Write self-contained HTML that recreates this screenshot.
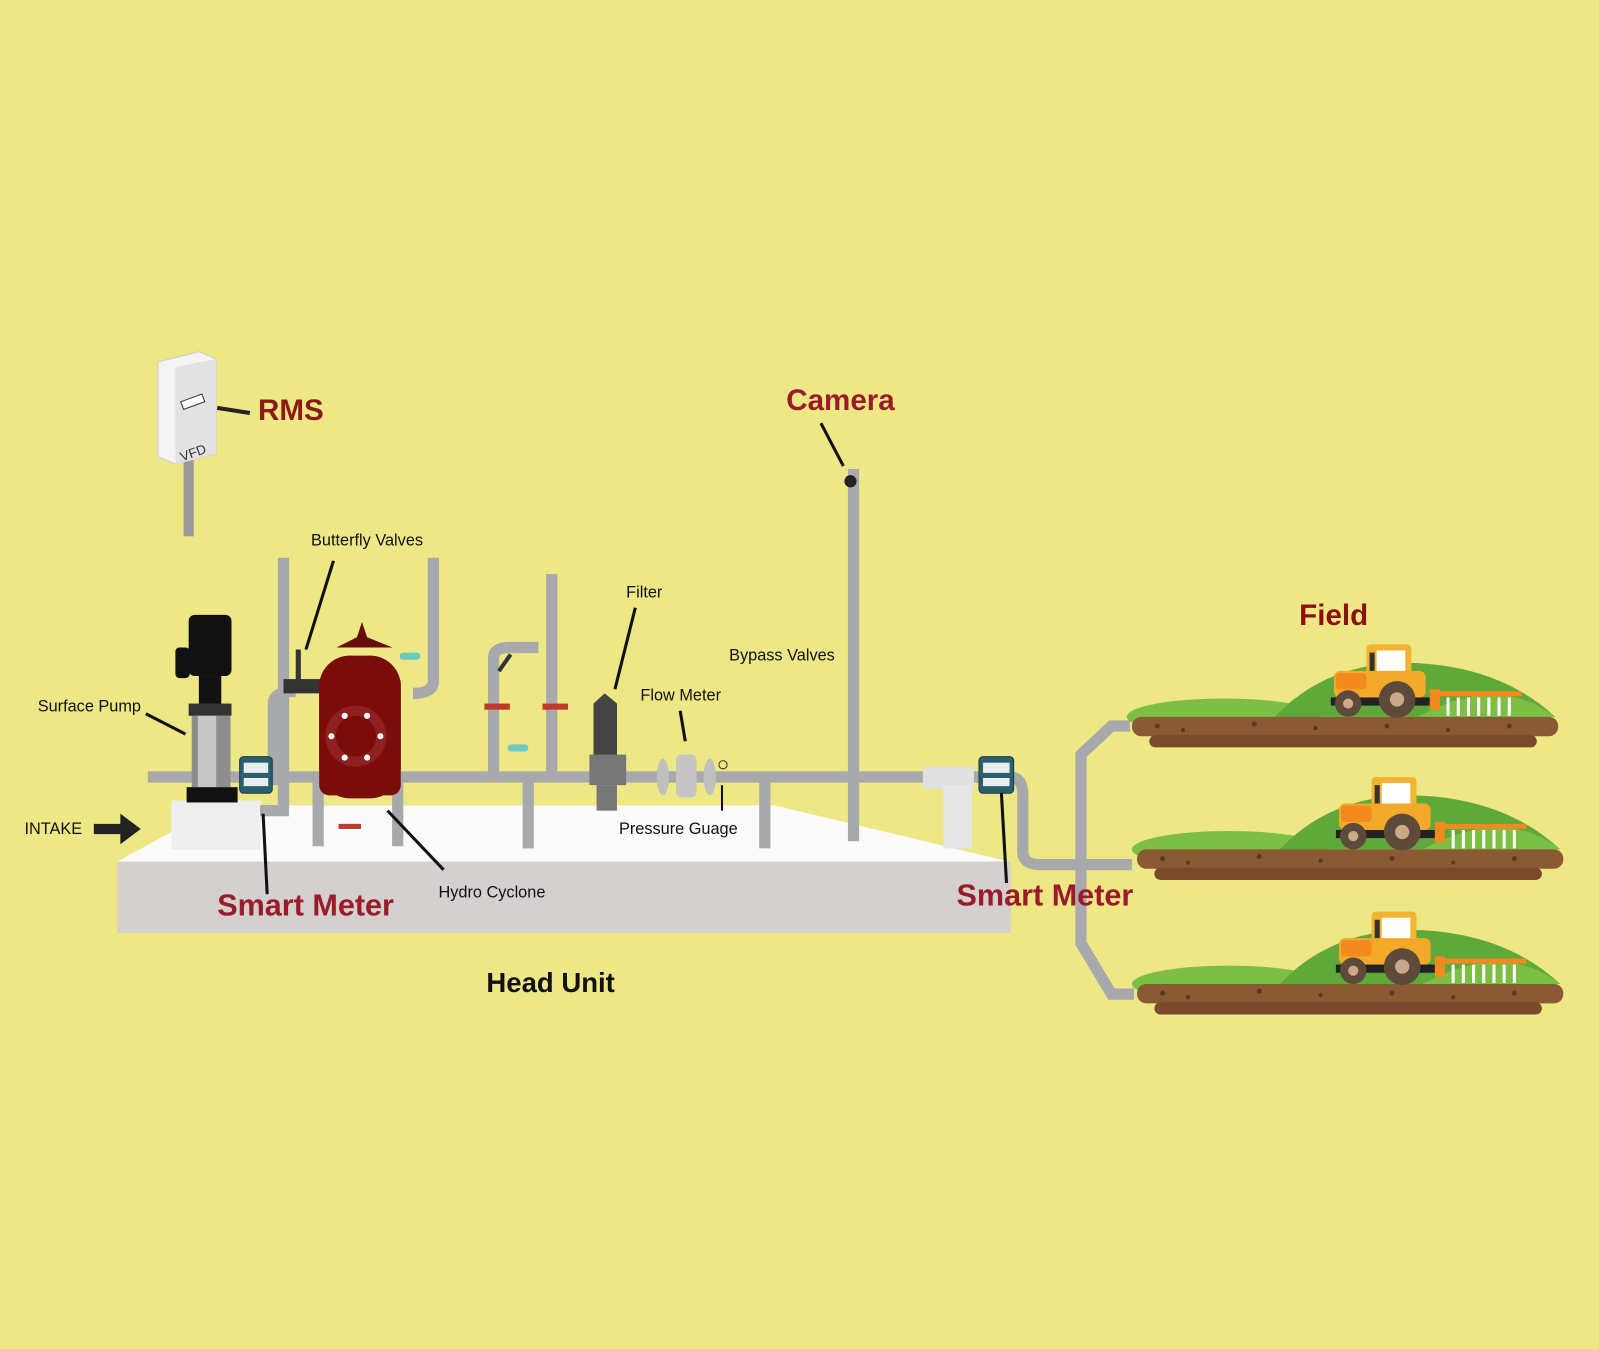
<!DOCTYPE html>
<html><head><meta charset="utf-8"><style>
html,body{margin:0;padding:0;background:#ede785;}
svg{display:block}
text{font-family:"Liberation Sans",sans-serif}
</style></head><body>
<svg width="1599" height="1349" viewBox="0 0 1568 1323" preserveAspectRatio="none" xmlns="http://www.w3.org/2000/svg">
<defs>
<g id="field">
  <ellipse cx="1200" cy="703" rx="95" ry="18" fill="#7dbf45"/>
  <path d="M1250 703 Q1300 650 1380 650 Q1470 652 1525 703 Z" fill="#5fa83a"/>
  <path d="M1390 703 Q1470 660 1525 703Z" fill="#7dbf45"/>
  <rect x="1110" y="703" width="418" height="19" rx="9" fill="#8a5a35"/>
  <rect x="1127" y="721" width="380" height="12" rx="6" fill="#7a4b2a"/>
  <g fill="#5c3a20"><circle cx="1135" cy="712" r="2.5"/><circle cx="1160" cy="716" r="2"/><circle cx="1230" cy="710" r="2.5"/><circle cx="1290" cy="714" r="2"/><circle cx="1360" cy="712" r="2.5"/><circle cx="1420" cy="716" r="2"/><circle cx="1480" cy="712" r="2.5"/></g>
  <!-- tractor -->
  <rect x="1340" y="632" width="44" height="42" rx="4" fill="#f3b330"/>
  <rect x="1350" y="638" width="28" height="28" fill="#fff"/>
  <rect x="1343" y="640" width="5" height="32" fill="#333"/>
  <rect x="1308" y="658" width="90" height="26" rx="6" fill="#f3a929"/>
  <rect x="1310" y="660" width="30" height="16" rx="4" fill="#f28a20"/>
  <rect x="1305" y="684" width="100" height="8" fill="#222"/>
  <circle cx="1322" cy="690" r="13" fill="#5d4a3a"/><circle cx="1322" cy="690" r="5" fill="#c9a98a"/>
  <circle cx="1370" cy="686" r="18" fill="#5d4a3a"/><circle cx="1370" cy="686" r="7" fill="#c9a98a"/>
  <rect x="1402" y="676" width="10" height="20" fill="#f28a20"/>
  <rect x="1412" y="678" width="80" height="5" fill="#f28a20"/>
  <g stroke="#fff" stroke-width="3"><line x1="1420" y1="684" x2="1420" y2="702"/><line x1="1430" y1="684" x2="1430" y2="702"/><line x1="1440" y1="684" x2="1440" y2="702"/><line x1="1450" y1="684" x2="1450" y2="702"/><line x1="1460" y1="684" x2="1460" y2="702"/><line x1="1470" y1="684" x2="1470" y2="702"/><line x1="1480" y1="684" x2="1480" y2="702"/></g>
</g>
</defs>
<rect width="1568" height="1323" fill="#ede785"/>

<!-- platform -->
<path d="M115 845 L170 815 L260 790 L760 790 L990 845 Z" fill="#fbfbfb"/>
<rect x="115" y="845" width="876" height="70" fill="#d3d0cf"/>
<rect x="168" y="785" width="88" height="48" fill="#eeeeee"/>

<!-- RMS box -->
<rect x="180" y="450" width="10" height="76" fill="#9a9a9a"/>
<path d="M155 355 L195 345 L212 352 L212 445 L172 455 L155 448 Z" fill="#f4f4f4" stroke="#ccc"/>
<path d="M172 360 L212 352 L212 445 L172 455Z" fill="#e2e2e2"/>
<rect x="178" y="390" width="22" height="8" fill="#fff" stroke="#333" transform="rotate(-20 189 394)"/>
<text x="175" y="448" font-size="13" fill="#333" transform="rotate(-20 190 440)">VFD</text>
<line x1="213" y1="400" x2="245" y2="405" stroke="#222" stroke-width="4"/>
<text x="253" y="412" font-size="29" font-weight="bold" fill="#8b1a1a">RMS</text>

<!-- pipes -->
<g stroke="#a7a9ac" stroke-width="11" fill="none" stroke-linecap="butt">
  <line x1="145" y1="762" x2="910" y2="762"/>
  <path d="M278 547 V790"/>
  <path d="M268 770 V690 Q268 678 290 678"/>
  <path d="M425 547 V668 Q425 680 405 680"/>
  <path d="M541 563 V762"/>
  <path d="M484 762 V645 Q484 635 500 635 H528"/>
  <line x1="837" y1="460" x2="837" y2="825"/>
  <line x1="312" y1="762" x2="312" y2="830"/>
  <line x1="390" y1="762" x2="390" y2="830"/>
  <line x1="518" y1="762" x2="518" y2="832"/>
  <line x1="750" y1="762" x2="750" y2="832"/>
  <path d="M255 795 H278 V770"/>
  <path d="M940 765 V830"/>
  <path d="M910 762 H990 Q1003 762 1003 780 V835 Q1003 848 1020 848 H1110"/>
  <path d="M1108 712 H1090 L1060 740 V925 L1090 975 H1112"/>
</g>
<rect x="905" y="752" width="50" height="22" fill="#e0e0e0"/>
<rect x="925" y="770" width="28" height="62" fill="#e6e6e6"/>
<rect x="278" y="666" width="36" height="14" fill="#333"/>

<!-- pump -->
<rect x="185" y="603" width="42" height="60" rx="6" fill="#111"/>
<rect x="172" y="635" width="14" height="30" rx="4" fill="#111"/>
<rect x="195" y="663" width="22" height="28" fill="#111"/>
<rect x="185" y="690" width="42" height="12" fill="#333"/>
<rect x="188" y="702" width="38" height="70" fill="#8d8d8d"/>
<rect x="194" y="702" width="18" height="70" fill="#c8c8c8"/>
<rect x="183" y="772" width="50" height="15" fill="#111"/>
<line x1="143" y1="700" x2="182" y2="720" stroke="#111" stroke-width="3"/>
<text x="37" y="698" font-size="16" fill="#111">Surface Pump</text>

<!-- smart meter 1 -->
<rect x="235" y="742" width="32" height="36" rx="4" fill="#2c5f6e" stroke="#1a3a44"/>
<rect x="239" y="748" width="24" height="10" fill="#e8eef0"/>
<rect x="239" y="763" width="24" height="8" fill="#e8eef0"/>
<line x1="258" y1="798" x2="262" y2="877" stroke="#111" stroke-width="3"/>
<text x="213" y="898" font-size="30" font-weight="bold" fill="#9b1b2a">Smart Meter</text>

<!-- hydro cyclone -->
<path d="M355 610 L360 625 L385 635 L330 635 L350 625 Z" fill="#6a0b0b"/>
<rect x="313" y="643" width="80" height="140" rx="30" fill="#7a0c0c"/>
<rect x="313" y="660" width="80" height="120" rx="10" fill="#7a0c0c"/>
<circle cx="349" cy="722" r="30" fill="#8e2020"/>
<circle cx="349" cy="722" r="20" fill="#7a0c0c"/>
<g fill="#fff"><circle cx="338" cy="702" r="3"/><circle cx="360" cy="702" r="3"/><circle cx="325" cy="722" r="3"/><circle cx="373" cy="722" r="3"/><circle cx="338" cy="743" r="3"/><circle cx="360" cy="743" r="3"/></g>
<rect x="332" y="808" width="22" height="5" fill="#c0392b"/>
<line x1="380" y1="795" x2="435" y2="853" stroke="#111" stroke-width="3"/>
<text x="430" y="880" font-size="16" fill="#111">Hydro Cyclone</text>

<!-- butterfly valves label -->
<line x1="327" y1="550" x2="300" y2="637" stroke="#111" stroke-width="3"/>
<text x="305" y="535" font-size="16" fill="#111">Butterfly Valves</text>
<rect x="290" y="637" width="5" height="35" fill="#333"/>
<g fill="#6cc9c4"><rect x="392" y="640" width="20" height="7" rx="3"/><rect x="498" y="730" width="20" height="7" rx="3"/></g>
<g fill="#c0392b"><rect x="475" y="690" width="25" height="6"/><rect x="532" y="690" width="25" height="6"/></g>
<rect x="493" y="640" width="4" height="20" fill="#333" transform="rotate(35 495 650)"/>

<!-- filter -->
<path d="M593 680 L605 690 V745 H582 V690Z" fill="#444"/>
<rect x="578" y="740" width="36" height="30" fill="#777"/>
<rect x="585" y="770" width="20" height="25" fill="#777"/>
<line x1="623" y1="596" x2="603" y2="676" stroke="#111" stroke-width="3"/>
<text x="614" y="586" font-size="16" fill="#111">Filter</text>

<!-- flow meter / gauge -->
<rect x="663" y="740" width="20" height="42" rx="5" fill="#c5c5c5"/>
<ellipse cx="650" cy="762" rx="6" ry="18" fill="#c0c0c0"/>
<ellipse cx="696" cy="762" rx="6" ry="18" fill="#c0c0c0"/>
<line x1="667" y1="697" x2="672" y2="727" stroke="#111" stroke-width="3"/>
<text x="628" y="687" font-size="16" fill="#111">Flow Meter</text>
<circle cx="709" cy="750" r="4" fill="none" stroke="#333"/>
<line x1="708" y1="770" x2="708" y2="795" stroke="#111" stroke-width="2"/>
<text x="607" y="818" font-size="16" fill="#111">Pressure Guage</text>
<text x="715" y="648" font-size="16" fill="#111">Bypass Valves</text>

<!-- camera -->
<circle cx="834" cy="472" r="6" fill="#222"/>
<line x1="805" y1="415" x2="827" y2="457" stroke="#111" stroke-width="3"/>
<text x="771" y="402" font-size="29" font-weight="bold" fill="#9b1b2a">Camera</text>

<!-- smart meter 2 -->
<rect x="960" y="742" width="34" height="36" rx="4" fill="#2c5f6e" stroke="#1a3a44"/>
<rect x="964" y="748" width="26" height="10" fill="#e8eef0"/>
<rect x="964" y="763" width="26" height="8" fill="#e8eef0"/>
<line x1="982" y1="778" x2="987" y2="866" stroke="#111" stroke-width="3"/>
<text x="938" y="888" font-size="30" font-weight="bold" fill="#9b1b2a">Smart Meter</text>

<!-- intake -->
<text x="24" y="818" font-size="16" fill="#111">INTAKE</text>
<path d="M92 808 H118 V798 L138 813 L118 828 V818 H92Z" fill="#222"/>

<text x="477" y="973" font-size="27" font-weight="bold" fill="#111">Head Unit</text>
<text x="1274" y="613" font-size="29" font-weight="bold" fill="#8b1111">Field</text>

<use href="#field"/>
<use href="#field" transform="translate(5 130)"/>
<use href="#field" transform="translate(5 262)"/>
</svg>
</body></html>
